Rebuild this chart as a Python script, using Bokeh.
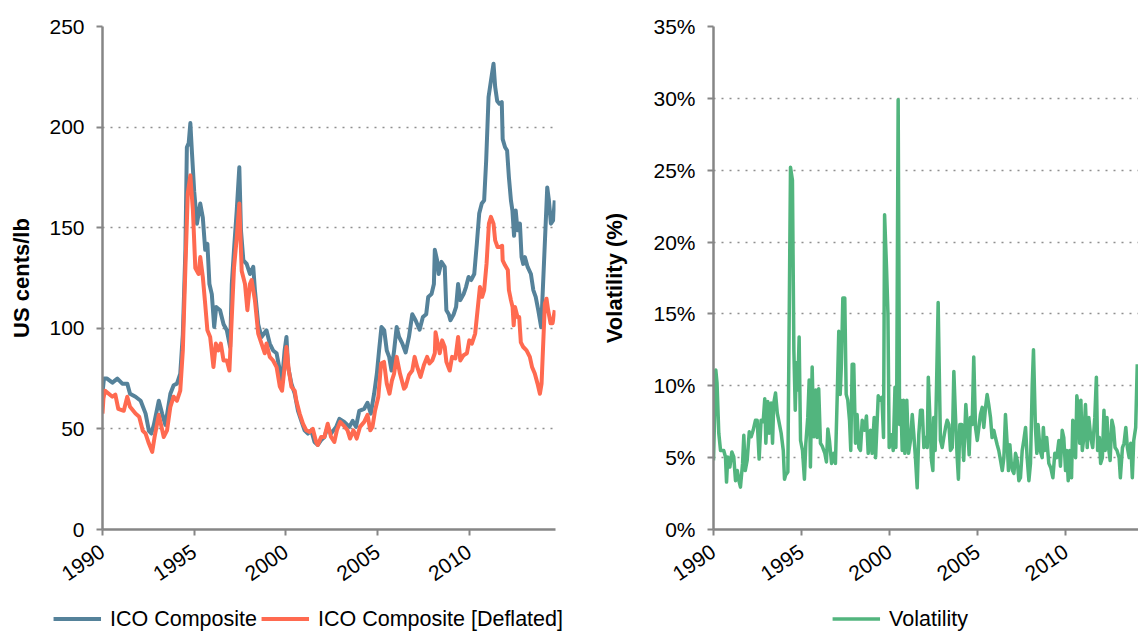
from bokeh.plotting import figure
from bokeh.layouts import row, column
from bokeh.models import (Legend, LegendItem, Range1d, FixedTicker,
                          PrintfTickFormatter)
from bokeh.embed import file_html
from bokeh.resources import INLINE

# ---------------- data ----------------
ico_years = [1990.00, 1990.08, 1990.25, 1990.54, 1990.81, 1991.08, 1991.35, 1991.50, 1991.80, 1992.08,
             1992.35, 1992.53, 1992.66, 1992.80, 1993.07, 1993.25, 1993.43, 1993.70, 1993.88, 1994.06,
             1994.24, 1994.38, 1994.52, 1994.60, 1994.70, 1994.79, 1994.88, 1995.00, 1995.15, 1995.33,
             1995.47, 1995.60, 1995.72, 1995.83, 1995.96, 1996.09, 1996.20, 1996.41, 1996.60, 1996.78,
             1996.96, 1997.05, 1997.17, 1997.32, 1997.46, 1997.55, 1997.68, 1997.86, 1998.04, 1998.22,
             1998.31, 1998.49, 1998.67, 1998.94, 1999.12, 1999.30, 1999.49, 1999.67, 1999.79, 1999.93,
             2000.03, 2000.12, 2000.30, 2000.48, 2000.66, 2000.84, 2001.02, 2001.20, 2001.38, 2001.56,
             2001.74, 2001.92, 2002.10, 2002.28, 2002.46, 2002.74, 2002.92, 2003.18, 2003.46, 2003.64,
             2003.82, 2004.00, 2004.27, 2004.45, 2004.63, 2004.81, 2004.96, 2005.08, 2005.21, 2005.36,
             2005.50, 2005.63, 2005.76, 2005.90, 2006.04, 2006.17, 2006.35, 2006.53, 2006.71, 2006.89,
             2007.07, 2007.29, 2007.47, 2007.65, 2007.76, 2007.94, 2008.07, 2008.12, 2008.24, 2008.33,
             2008.48, 2008.66, 2008.75, 2008.88, 2008.97, 2009.15, 2009.28, 2009.39, 2009.51, 2009.69,
             2009.82, 2009.96, 2010.10, 2010.27, 2010.41, 2010.54, 2010.68, 2010.81, 2010.92, 2011.05,
             2011.18, 2011.32, 2011.41, 2011.52, 2011.64, 2011.77, 2011.82, 2011.95, 2012.06, 2012.16,
             2012.27, 2012.35, 2012.44, 2012.53, 2012.63, 2012.76, 2012.85, 2012.94, 2013.03, 2013.18,
             2013.36, 2013.49, 2013.62, 2013.76, 2013.92, 2014.25, 2014.34, 2014.45, 2014.57, 2014.66]
ico_values = [68, 75, 75, 73, 75, 72.5, 72.5, 67.5, 66, 64,
              57.6, 49, 47.7, 52, 64, 57.6, 52, 67.5, 71.7, 72.5,
              77.5, 97, 139, 190, 192, 202, 187, 168, 152, 162,
              155, 139, 142, 122, 117, 100.7, 110.6, 109, 102, 99,
              90.7, 122, 139, 158.6, 180, 148.7, 133.8, 132, 127, 130.5,
              119, 102, 95.7, 99, 92.4, 89, 87.6, 79, 74, 89,
              95.7, 80.8, 72.5, 67.5, 59, 54, 49.3, 47.7, 49.3, 43.5,
              42, 44.4, 46, 51, 47.7, 51, 55, 53.5, 51, 54,
              51, 59, 60, 63, 57.6, 67.5, 77.5, 89, 100.7, 99,
              89, 85.8, 79, 89, 100.7, 95.7, 92.4, 88, 95.7, 107,
              104, 99.3, 105.6, 107, 115.6, 117, 122, 139, 134, 127,
              133, 130.5, 109, 107, 104, 107, 110.6, 122, 114, 117,
              120.5, 125.5, 124, 127, 142, 157, 162, 163.6, 183.4, 215,
              223, 231.5, 220, 213, 211.6, 212.4, 194, 190, 188.4, 175,
              163.6, 158.6, 146, 158.6, 148.7, 152, 135.4, 132, 135.4, 130.5,
              127, 119, 115.6, 109, 100.5, 170, 163.6, 152, 153.6, 163.6]

defl_years = [1990.00, 1990.05, 1990.13, 1990.54, 1990.70, 1990.86, 1991.16, 1991.35, 1991.50, 1991.80,
              1992.00, 1992.20, 1992.35, 1992.53, 1992.71, 1992.84, 1993.07, 1993.34, 1993.52, 1993.70,
              1993.88, 1994.06, 1994.24, 1994.38, 1994.52, 1994.65, 1994.79, 1994.93, 1995.06, 1995.24,
              1995.33, 1995.47, 1995.60, 1995.72, 1995.87, 1996.05, 1996.18, 1996.32, 1996.45, 1996.60,
              1996.78, 1996.92, 1997.05, 1997.17, 1997.32, 1997.46, 1997.59, 1997.77, 1997.90, 1998.04,
              1998.13, 1998.31, 1998.49, 1998.67, 1998.85, 1998.94, 1999.12, 1999.30, 1999.49, 1999.67,
              1999.79, 1999.93, 2000.03, 2000.16, 2000.30, 2000.48, 2000.57, 2000.75, 2000.93, 2001.11,
              2001.29, 2001.47, 2001.65, 2001.74, 2001.92, 2002.10, 2002.28, 2002.46, 2002.64, 2002.78,
              2002.96, 2003.14, 2003.36, 2003.50, 2003.68, 2003.86, 2004.04, 2004.27, 2004.45, 2004.60,
              2004.72, 2004.86, 2005.04, 2005.19, 2005.35, 2005.50, 2005.65, 2005.78, 2005.90, 2006.04,
              2006.22, 2006.44, 2006.53, 2006.71, 2006.89, 2007.02, 2007.16, 2007.34, 2007.52, 2007.70,
              2007.83, 2007.98, 2008.12, 2008.16, 2008.28, 2008.39, 2008.52, 2008.66, 2008.75, 2008.93,
              2009.06, 2009.24, 2009.39, 2009.51, 2009.69, 2009.87, 2010.00, 2010.14, 2010.32, 2010.45,
              2010.58, 2010.70, 2010.81, 2010.94, 2011.07, 2011.18, 2011.32, 2011.41, 2011.54, 2011.68,
              2011.79, 2011.82, 2011.95, 2012.10, 2012.16, 2012.27, 2012.36, 2012.42, 2012.49, 2012.63,
              2012.72, 2012.81, 2012.94, 2013.12, 2013.30, 2013.42, 2013.57, 2013.72, 2013.85, 2013.94,
              2014.03, 2014.12, 2014.21, 2014.30, 2014.43, 2014.54, 2014.66]
defl_values = [57.6, 65, 69, 66, 67, 60, 59, 66, 61, 57.6,
               56, 49, 47.7, 42.7, 38.6, 46, 57, 46, 49.3, 61,
               66, 64, 69, 89, 130, 167, 176, 158.6, 130, 127,
               135.4, 125.5, 112, 99, 95.7, 80.8, 92.4, 89, 92.4, 84,
               84, 79, 105.6, 130, 145, 162, 128.5, 122, 109, 122,
               124, 114, 97.4, 92.4, 87.6, 92.4, 85.8, 84, 80.8, 71,
               69, 80.8, 90.7, 79, 71, 69, 64, 57.6, 52.6, 49.3,
               48.5, 50, 43.5, 42, 46, 46, 52.6, 46, 43.5, 49.3,
               53.5, 51.8, 49.3, 45.2, 49.3, 45.2, 51, 53.5, 57, 49.3,
               51, 59, 66, 82.5, 83.3, 72.5, 67.5, 74, 77.5, 85.8,
               77.5, 70, 71, 76.8, 79, 85.8, 80.8, 75.8, 81.6, 85.8,
               82.5, 84, 87.6, 98, 92.4, 87.6, 94, 90.7, 83.3, 79,
               85.8, 85, 95.7, 84, 86.6, 87.6, 94, 92.4, 97.4, 109,
               120.5, 115.6, 119, 132, 152, 155.4, 152, 143.7, 140.4, 140.4,
               141, 133.8, 131.3, 129, 119, 114, 110.6, 101.5, 110.6, 105.6,
               105.6, 93, 90.7, 89, 85.8, 80.8, 77.5, 72.5, 67.5, 72.5,
               92.4, 112.3, 114.7, 109, 102.5, 102.5, 109]

vol_years = [1990.00, 1990.13, 1990.20, 1990.30, 1990.40, 1990.58, 1990.68, 1990.74, 1990.81, 1990.93,
             1991.04, 1991.15, 1991.25, 1991.35, 1991.44, 1991.53, 1991.65, 1991.72, 1991.80, 1991.91,
             1992.03, 1992.14, 1992.25, 1992.38, 1992.48, 1992.59, 1992.70, 1992.82, 1992.91, 1992.97,
             1993.08, 1993.16, 1993.27, 1993.35, 1993.42, 1993.52, 1993.62, 1993.73, 1993.84, 1993.96,
             1994.03, 1994.10, 1994.22, 1994.37, 1994.48, 1994.56, 1994.64, 1994.71, 1994.78, 1994.86,
             1994.94, 1995.05, 1995.16, 1995.24, 1995.35, 1995.43, 1995.50, 1995.60, 1995.69, 1995.80,
             1995.88, 1995.97, 1996.07, 1996.17, 1996.32, 1996.41, 1996.49, 1996.58, 1996.70, 1996.83,
             1996.92, 1997.02, 1997.11, 1997.19, 1997.26, 1997.34, 1997.45, 1997.53, 1997.62, 1997.72,
             1997.79, 1997.87, 1997.96, 1998.06, 1998.15, 1998.25, 1998.34, 1998.44, 1998.57, 1998.68,
             1998.78, 1998.91, 1999.00, 1999.12, 1999.20, 1999.35, 1999.46, 1999.56, 1999.65, 1999.71,
             1999.82, 1999.90, 1999.97, 2000.10, 2000.20, 2000.30, 2000.35, 2000.40, 2000.48, 2000.56,
             2000.63, 2000.71, 2000.78, 2000.86, 2000.97, 2001.07, 2001.18, 2001.28, 2001.37, 2001.46,
             2001.56, 2001.65, 2001.75, 2001.85, 2001.94, 2002.03, 2002.13, 2002.19, 2002.28, 2002.37,
             2002.45, 2002.50, 2002.58, 2002.66, 2002.75, 2002.83, 2002.88, 2002.98, 2003.07, 2003.17,
             2003.26, 2003.36, 2003.45, 2003.55, 2003.64, 2003.73, 2003.83, 2003.90, 2003.98, 2004.09,
             2004.20, 2004.32, 2004.40, 2004.51, 2004.58, 2004.68, 2004.77, 2004.87, 2004.97, 2005.06,
             2005.15, 2005.25, 2005.34, 2005.44, 2005.53, 2005.62, 2005.72, 2005.81, 2005.91, 2006.00,
             2006.10, 2006.19, 2006.29, 2006.39, 2006.48, 2006.57, 2006.67, 2006.74, 2006.82, 2006.90,
             2006.97, 2007.05, 2007.14, 2007.24, 2007.33, 2007.42, 2007.52, 2007.61, 2007.71, 2007.80,
             2007.90, 2007.99, 2008.09, 2008.16, 2008.27, 2008.35, 2008.42, 2008.54, 2008.65, 2008.72,
             2008.80, 2008.91, 2009.03, 2009.14, 2009.26, 2009.37, 2009.48, 2009.60, 2009.69, 2009.79,
             2009.88, 2009.98, 2010.05, 2010.13, 2010.22, 2010.32, 2010.39, 2010.47, 2010.55, 2010.62,
             2010.70, 2010.78, 2010.85, 2010.93, 2011.02, 2011.11, 2011.21, 2011.30, 2011.41, 2011.52,
             2011.64, 2011.73, 2011.80, 2011.90, 2011.97, 2012.07, 2012.16, 2012.23, 2012.33, 2012.42,
             2012.51, 2012.61, 2012.70, 2012.79, 2012.90, 2013.02, 2013.09, 2013.21, 2013.30, 2013.40,
             2013.49, 2013.59, 2013.68, 2013.77, 2013.85, 2013.96, 2014.05]
vol_values = [4.8, 11.1, 10.2, 6.7, 5.5, 5.5, 5.05, 3.3, 5.05, 4.35,
              5.4, 5.05, 3.4, 4.1, 3.4, 2.95, 4.6, 6.55, 4.1, 4.8,
              6.8, 6.45, 6.9, 7.6, 7.6, 4.9, 7.6, 7.5, 9.1, 6.0,
              8.9, 6.7, 8.8, 6.0, 8.8, 9.5, 8.1, 7.4, 6.7, 5.5,
              3.5, 3.8, 4.0, 25.2, 24.3, 12.5, 8.3, 11.6, 9.7, 13.4,
              6.2, 5.5, 3.5, 6.0, 7.8, 10.4, 4.35, 11.3, 6.45, 9.7,
              6.4, 9.8, 6.0, 5.8, 5.3, 4.7, 7.0, 6.2, 4.6, 5.3,
              4.6, 9.2, 13.8, 9.4, 11.5, 16.1, 16.1, 9.4, 9.0, 7.6,
              5.5, 11.5, 11.5, 6.0, 8.0, 5.7, 5.5, 7.6, 6.9, 7.9,
              5.3, 6.9, 5.3, 7.8, 5.0, 9.3, 9.0, 9.2, 6.4, 21.9,
              18.2, 15.0, 5.7, 6.6, 5.5, 9.9, 5.7, 9.7, 29.9, 7.3,
              9.0, 5.5, 9.0, 5.3, 9.0, 5.3, 6.2, 8.0, 6.6, 5.0,
              2.9, 6.6, 8.3, 8.3, 5.7, 6.4, 5.7, 10.6, 7.8, 4.8,
              4.1, 7.8, 5.5, 10.1, 15.8, 9.7, 6.2, 5.7, 6.4, 7.1,
              7.6, 7.3, 5.5, 5.7, 11.0, 8.0, 5.0, 3.5, 7.3, 7.3,
              4.8, 8.7, 7.3, 5.2, 7.8, 7.3, 12.0, 7.1, 6.2, 7.1,
              8.0, 8.5, 7.1, 8.5, 9.4, 8.7, 7.8, 6.4, 6.9, 6.4,
              5.9, 5.5, 4.8, 4.1, 5.0, 8.0, 5.9, 4.1, 5.9, 4.6,
              4.1, 3.9, 5.3, 4.8, 3.4, 3.6, 5.5, 6.2, 7.1, 5.0,
              3.4, 4.6, 10.1, 12.5, 7.1, 5.3, 7.3, 5.5, 5.0, 7.1,
              5.5, 6.4, 4.6, 4.3, 3.6, 5.3, 5.0, 6.2, 4.4, 6.9,
              6.4, 4.1, 5.5, 3.4, 5.5, 3.6, 7.6, 6.9, 5.0, 9.3,
              8.5, 6.0, 9.0, 5.5, 6.4, 8.7, 5.7, 7.8, 6.4, 5.7,
              7.8, 10.6, 5.5, 6.4, 4.6, 5.0, 8.3, 5.5, 7.8, 5.7,
              4.8, 7.6, 7.1, 5.7, 5.5, 5.0, 3.6, 5.7, 6.0, 7.1,
              5.7, 5.0, 6.0, 3.6, 6.2, 7.1, 11.5]

price_ticks = [0, 50, 100, 150, 200, 250]
vol_ticks = [0, 5, 10, 15, 20, 25, 30, 35]
year_ticks = [1990, 1995, 2000, 2005, 2010]

# ---------------- styling ----------------
FONT = "Liberation Sans"
AXIS_GREY = "#868686"
BLUE = "#55829A"
ORANGE = "#FF6A50"
GREEN = "#52B57E"


def style(p, yticks, ylabel, label_standoff):
    p.outline_line_color = None
    p.background_fill_color = "white"
    p.border_fill_color = "white"
    p.xgrid.visible = False
    p.ygrid.ticker = FixedTicker(ticks=yticks[1:])
    p.ygrid.grid_line_color = "#8f8f8f"
    p.ygrid.grid_line_dash = "2 6"
    p.ygrid.grid_line_width = 1.6
    p.xaxis.ticker = FixedTicker(ticks=year_ticks)
    p.yaxis.ticker = FixedTicker(ticks=yticks)
    for ax in (p.xaxis[0], p.yaxis[0]):
        ax.axis_line_color = AXIS_GREY
        ax.axis_line_width = 2.5
        ax.major_tick_line_color = AXIS_GREY
        ax.major_tick_line_width = 2
        ax.major_tick_out = 6
        ax.major_tick_in = 0
        ax.minor_tick_line_color = None
        ax.major_label_text_font = FONT
        ax.major_label_text_font_size = "21px"
        ax.major_label_text_color = "black"
    p.xaxis.major_label_orientation = 0.6
    p.xaxis.major_label_standoff = 14
    p.yaxis.major_label_standoff = 12
    p.yaxis.axis_label = ylabel
    p.yaxis.axis_label_text_font = FONT
    p.yaxis.axis_label_text_font_style = "bold"
    p.yaxis.axis_label_text_font_size = "22px"
    p.yaxis.axis_label_text_color = "black"
    p.yaxis.axis_label_standoff = label_standoff


def legend_strip(width, left_pad, series):
    # a slim figure that carries only the legend, under its chart
    q = figure(width=width, height=27, output_backend="svg", toolbar_location=None,
               x_range=Range1d(0, 1), y_range=Range1d(0, 1),
               x_axis_type=None, y_axis_type=None,
               min_border=0, min_border_left=left_pad)
    q.outline_line_color = None
    q.background_fill_color = "white"
    q.border_fill_color = "white"
    items = []
    for label, xs, ys, color, lw in series:
        # same series, outside this strip's ranges: only its legend sample shows
        r = q.line(xs, ys, line_color=color, line_width=lw)
        items.append(LegendItem(label=label, renderers=[r]))
    q.add_layout(Legend(items=items, orientation="horizontal", location="center",
                        label_text_font=FONT, label_text_font_size="21.5px",
                        label_text_color="black", glyph_width=48, glyph_height=20,
                        label_standoff=9, spacing=4, padding=0, margin=0,
                        border_line_color=None, background_fill_alpha=0), "center")
    return q


# ---------------- left chart ----------------
p1 = figure(width=598, height=605, output_backend="svg", toolbar_location=None,
            x_range=Range1d(1990, 2014.7), y_range=Range1d(0, 250),
            min_border_left=102, min_border_right=43, min_border_top=26,
            min_border_bottom=76)
style(p1, price_ticks, "US cents/lb", 12)
p1.line(ico_years, ico_values, line_color=BLUE, line_width=4, line_join="round")
p1.line(defl_years, defl_values, line_color=ORANGE, line_width=4, line_join="round")

# ---------------- right chart ----------------
p2 = figure(width=540, height=605, output_backend="svg", toolbar_location=None,
            x_range=Range1d(1990, 2014.12), y_range=Range1d(0, 35),
            min_border_left=115, min_border_right=0, min_border_top=26,
            min_border_bottom=76)
style(p2, vol_ticks, "Volatility (%)", 23)
p2.yaxis.formatter = PrintfTickFormatter(format="%d%%")
p2.line(vol_years, vol_values, line_color=GREEN, line_width=3.5, line_join="round")

# ---------------- legends ----------------
leg1 = legend_strip(598, 18, [("ICO Composite", ico_years, ico_values, BLUE, 4),
                              ("ICO Composite [Deflated]", defl_years, defl_values, ORANGE, 4)])
leg2 = legend_strip(540, 64, [("Volatility", vol_years, vol_values, GREEN, 3.5)])

layout = column(row(p1, p2), row(leg1, leg2))
open("out.html", "w").write(file_html(layout, INLINE))
